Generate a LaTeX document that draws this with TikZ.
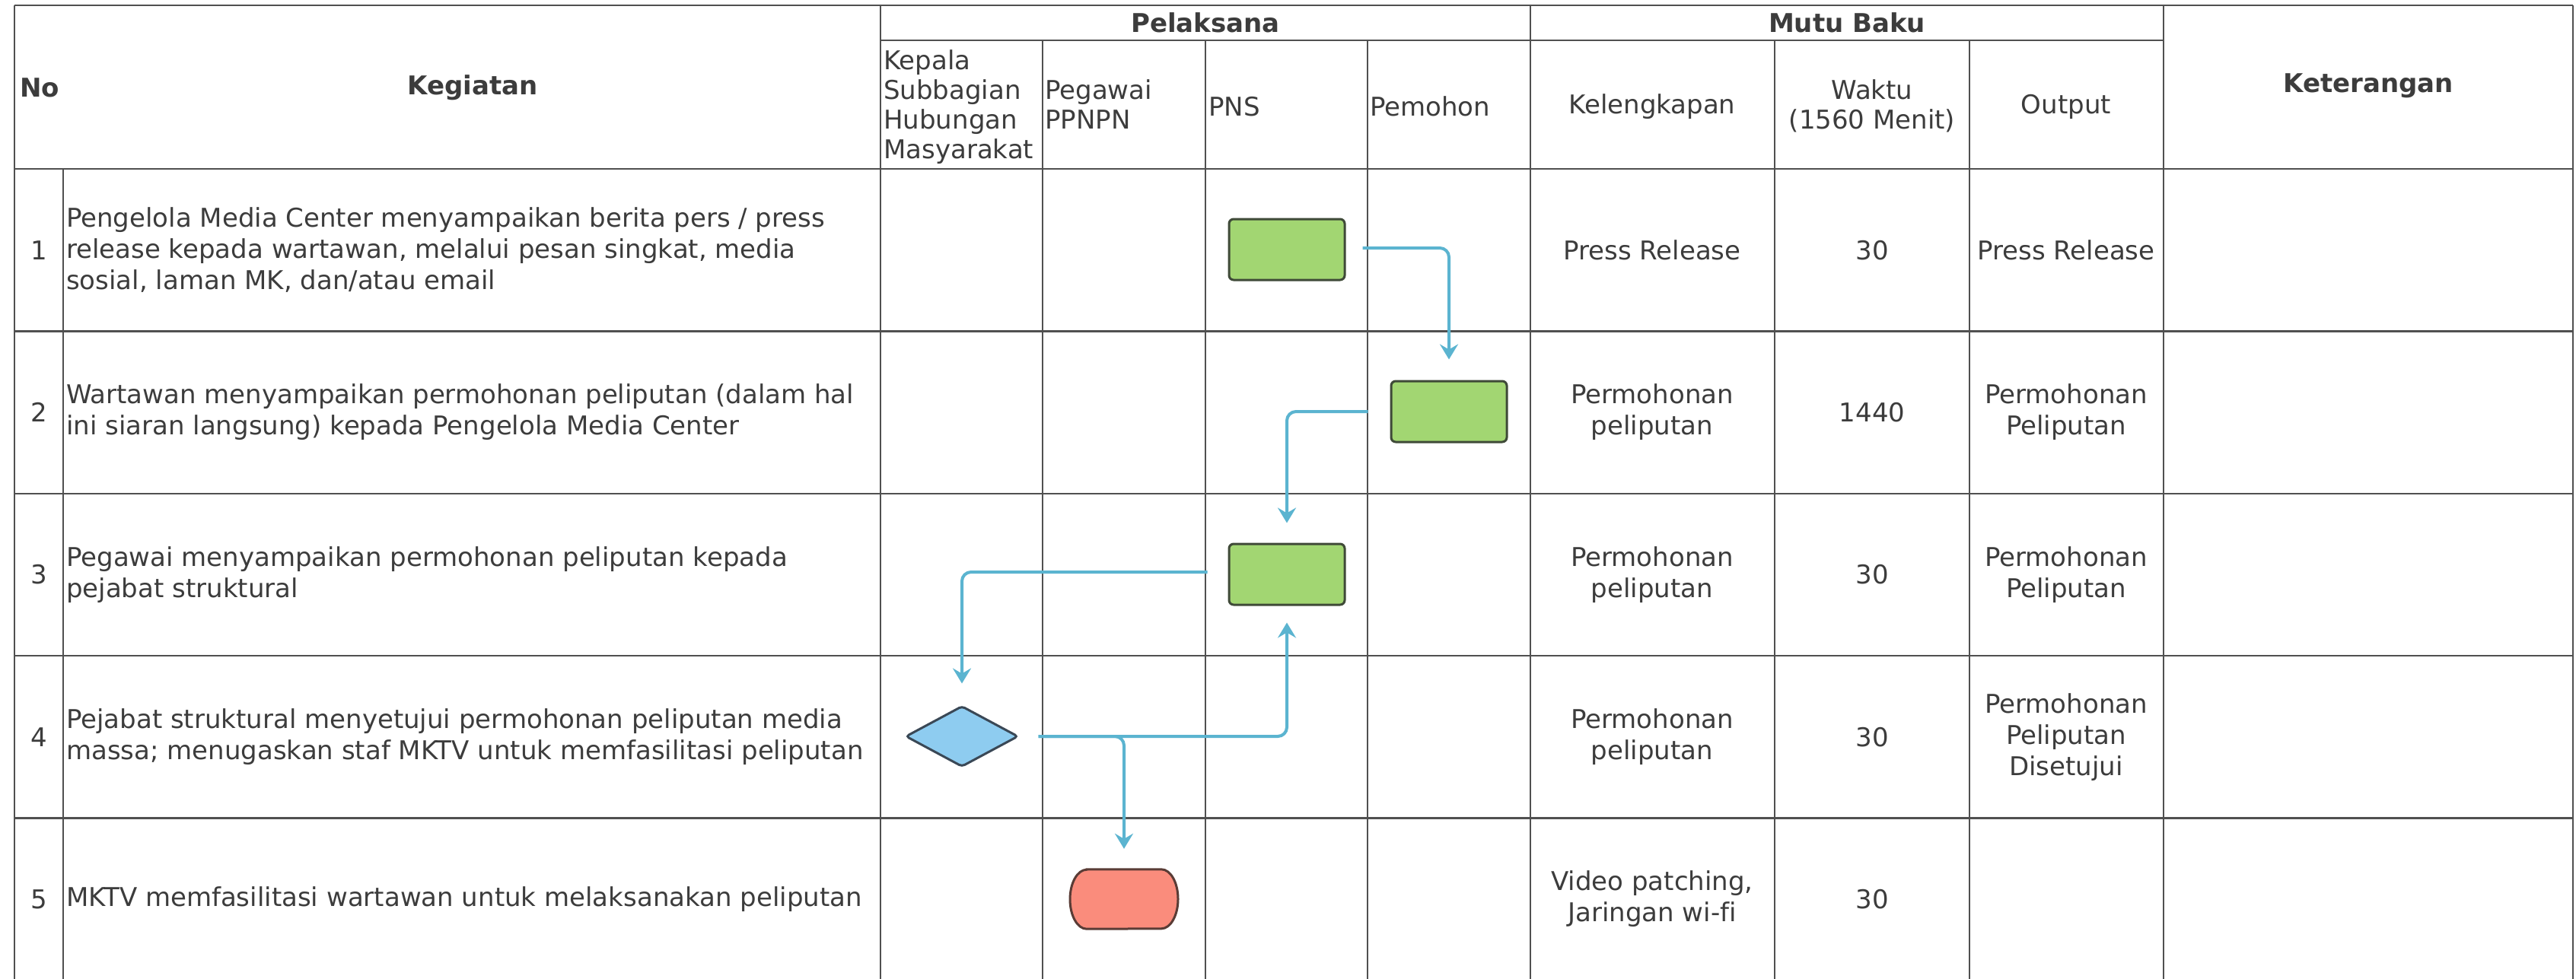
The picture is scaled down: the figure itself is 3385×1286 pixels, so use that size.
\documentclass[tikz,border=0pt]{standalone}
\usepackage{fontspec}
\setmainfont[Ligatures={NoCommon}]{DejaVu Sans}
\usetikzlibrary{shapes.geometric,shapes.misc,arrows.meta}
\definecolor{gridc}{HTML}{505050}
\definecolor{txt}{HTML}{3C3C3C}
\definecolor{flow}{HTML}{5BB4D0}
\definecolor{gfill}{HTML}{A2D672}
\definecolor{gline}{HTML}{3F4A38}
\definecolor{bfill}{HTML}{8ECCF0}
\definecolor{bline}{HTML}{3A4856}
\definecolor{rfill}{HTML}{FA8C7C}
\definecolor{rline}{HTML}{5A3C36}
\newcommand{\bodyfnt}{\fontsize{34}{41}\selectfont}
\newcommand{\headfnt}{\fontsize{34}{39}\selectfont}
\begin{document}
\begin{tikzpicture}[x=1pt,y=-1pt,
  grid/.style={draw=gridc,line width=2.5pt},
  txtn/.style={text=txt,font=\bodyfnt,inner sep=0pt},
  hd/.style={text=txt,font=\headfnt\bfseries,inner sep=0pt},
  cl/.style={txtn,align=center},
  ll/.style={txtn,align=left,anchor=west},
  hl/.style={text=txt,font=\headfnt,inner sep=0pt,align=left,anchor=west},
  hc/.style={text=txt,font=\headfnt,inner sep=0pt,align=center},
  procbox/.style={draw=gline,fill=gfill,line width=3pt,rounded corners=6pt,
    minimum width=152pt,minimum height=80pt,inner sep=0pt},
  decis/.style={diamond,draw=bline,fill=bfill,line width=3pt,rounded corners=4pt,
    minimum width=148pt,minimum height=80pt,inner sep=0pt},
  termin/.style={rectangle,draw=none,minimum width=142pt,minimum height=78pt,inner sep=0pt},
  terminline/.style={draw=rline,fill=rfill,line width=3pt},
  flowarr/.style={draw=flow,line width=4pt,rounded corners=12pt,
    -{Stealth[length=20pt,width=24pt,inset=7pt]}}
]
\fill[white] (0,0) rectangle (3385,1286);
\useasboundingbox (0,0) rectangle (3385,1286);

% grid
\draw[grid] (19,7) -- (3381,7);
\draw[grid] (19,7) -- (19,1300);
\draw[grid] (3381,7) -- (3381,1300);
\draw[grid] (1157,53) -- (2843,53);
\draw[grid] (19,222) -- (3381,222);
\foreach \yy in {435.5,649,862,1075.5} {\draw[grid] (19,\yy) -- (3381,\yy);}
\draw[grid] (83,222) -- (83,1300);
\foreach \xx in {1157,2011,2843} {\draw[grid] (\xx,7) -- (\xx,1300);}
\foreach \xx in {1370,1584,1797,2332,2588} {\draw[grid] (\xx,53) -- (\xx,1300);}

% headers
\node[hd,anchor=west] (hNo) at (26,115) {No};
\node[hd] (hKeg) at (621,115) {Kegiatan};
\node[hd] (hPel) at (1584,30) {Pelaksana};
\node[hd] (hMutu) at (2427,30) {Mutu Baku};
\node[hd] (hKet) at (3112,113) {Keterangan};
\node[hl] (hKepala) at (1161,141) {Kepala\\Subbagian\\Hubungan\\Masyarakat};
\node[hl] (hPeg) at (1373,137) {Pegawai\\PPNPN};
\node[hl] (hPNS) at (1588,140) {PNS};
\node[hl] (hPem) at (1800,140) {Pemohon};
\node[hc] (hKel) at (2171,140) {Kelengkapan};
\node[hc] (hWak) at (2460,139) {Waktu\\(1560 Menit)};
\node[hc] (hOut) at (2715,140) {Output};

% numbers
\node[cl] (n1) at (51,329) {1};
\node[cl] (n2) at (51,542) {2};
\node[cl] (n3) at (51,755.5) {3};
\node[cl] (n4) at (51,969) {4};
\node[cl] (n5) at (51,1182) {5};

% activities
\node[ll] (k1) at (87,329) {Pengelola Media Center menyampaikan berita pers / press\\release kepada wartawan, melalui pesan singkat, media\\sosial, laman MK, dan/atau email};
\node[ll] (k2) at (87,542) {Wartawan menyampaikan permohonan peliputan (dalam hal\\ini siaran langsung) kepada Pengelola Media Center};
\node[ll] (k3) at (87,755.5) {Pegawai menyampaikan permohonan peliputan kepada\\pejabat struktural};
\node[ll] (k4) at (87,969) {Pejabat struktural menyetujui permohonan peliputan media\\massa; menugaskan staf MKTV untuk memfasilitasi peliputan};
\node[ll] (k5) at (87,1182) {MKTV memfasilitasi wartawan untuk melaksanakan peliputan};

% mutu baku
\node[cl] (kel1) at (2171,329) {Press Release};
\node[cl] (w1) at (2460,329) {30};
\node[cl] (o1) at (2715,329) {Press Release};
\node[cl] (kel2) at (2171,542) {Permohonan\\peliputan};
\node[cl] (w2) at (2460,542) {1440};
\node[cl] (o2) at (2715,542) {Permohonan\\Peliputan};
\node[cl] (kel3) at (2171,755.5) {Permohonan\\peliputan};
\node[cl] (w3) at (2460,755.5) {30};
\node[cl] (o3) at (2715,755.5) {Permohonan\\Peliputan};
\node[cl] (kel4) at (2171,969) {Permohonan\\peliputan};
\node[cl] (w4) at (2460,969) {30};
\node[cl] (o4) at (2715,969) {Permohonan\\Peliputan\\Disetujui};
\node[cl] (kel5) at (2171,1182) {Video patching,\\Jaringan wi-fi};
\node[cl] (w5) at (2460,1182) {30};

% flow shapes
\node[procbox] (b1) at (1691,328) {};
\node[procbox] (b2) at (1904,541) {};
\node[procbox] (b3) at (1691,755) {};
\node[decis] (d4) at (1264,968) {};
\node[termin] (t5) at (1477,1182) {};
\path[terminline] ([xshift=-49pt]t5.north) -- ([xshift=49pt]t5.north)
  arc[start angle=90,end angle=-90,x radius=22pt,y radius=39pt]
  -- ([xshift=-49pt]t5.south)
  arc[start angle=270,end angle=90,x radius=22pt,y radius=39pt] -- cycle;

% connectors
\draw[flowarr] ([xshift=22pt,yshift=2pt]b1.east) -| ([yshift=27pt]b2.north);
\draw[flowarr] ([xshift=-29pt]b2.west) -| ([yshift=26pt]b3.north);
\draw[flowarr] ([xshift=-27pt,yshift=3pt]b3.west) -| ([yshift=28pt]d4.north);
\draw[flowarr] ([xshift=25pt]d4.east) -| ([yshift=-22pt]b3.south);
\draw[flowarr] ([xshift=25pt]d4.east) -| ([yshift=27pt]t5.north);
\end{tikzpicture}
\end{document}
